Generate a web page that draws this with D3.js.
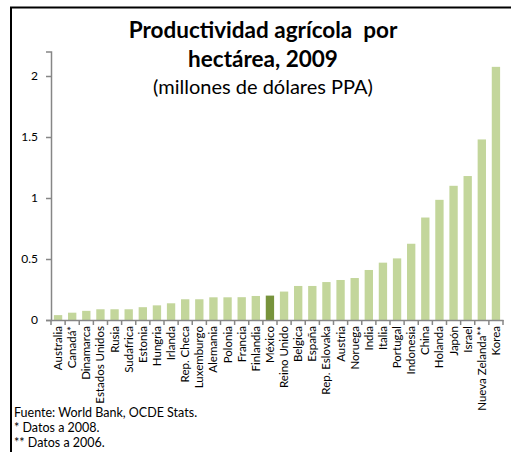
<!DOCTYPE html>
<html><head><meta charset="utf-8">
<script src="https://cdn.jsdelivr.net/npm/d3@7"></script>
<style>body{margin:0;background:#fff;}svg{display:block;font-family:Lato,"Open Sans",sans-serif;}</style>
</head><body>
<svg id="c" width="511" height="452"></svg>
<script>
const categories = ["Australia","Canadá*","Dinamarca","Estados Unidos","Rusia","Sudafrica","Estonia","Hungria","Irlanda","Rep. Checa","Luxemburgo","Alemania","Polonia","Francia","Finlandia","México","Reino Unido","Belgica","España","Rep. Eslovaka","Austria","Noruega","India","Italia","Portugal","Indonesia","China","Holanda","Japón","Israel","Nueva Zelanda**","Korea"];
const values = [0.04,0.06,0.075,0.088,0.088,0.088,0.105,0.12,0.137,0.17,0.17,0.186,0.186,0.187,0.197,0.2,0.233,0.279,0.279,0.311,0.328,0.344,0.41,0.47,0.505,0.625,0.84,0.985,1.1,1.18,1.48,2.075];
const highlight = "México";
const yTicks = [0,0.5,1,1.5,2];
const titleLines = ["Productividad agrícola  por","hectárea, 2009"];
const subtitle = "(millones de dólares PPA)";
const notes = ["Fuente: World Bank, OCDE Stats.","* Datos a 2008.","** Datos a 2006."];

const svg = d3.select("#c");
const axisColor = "#868686";
// frame
svg.append("rect").attr("x",11).attr("y",7.5).attr("width",510).attr("height",460)
  .attr("fill","none").attr("stroke","#000").attr("stroke-width",2);

const x = d3.scaleBand().domain(categories).range([51,503]).paddingInner(0.41).paddingOuter(0.205);
const y = d3.scaleLinear().domain([0,2.2]).range([320,51.6]);

// bars
svg.append("g").selectAll("rect").data(categories).join("rect")
  .attr("x",d=>x(d)).attr("width",x.bandwidth())
  .attr("y",(d,i)=>y(values[i])).attr("height",(d,i)=>y(0)-y(values[i]))
  .attr("fill",d=>d===highlight?"#77933c":"#c3d69b");

// y axis
const ya = svg.append("g").attr("transform","translate(51,0)")
  .call(d3.axisLeft(y).tickValues(yTicks).tickSize(5).tickPadding(8).tickFormat(d=>String(d)));
ya.select(".domain").attr("stroke",axisColor).attr("stroke-width",1.5);
ya.selectAll(".tick line").attr("stroke",axisColor).attr("stroke-width",1.5);
ya.selectAll(".tick text").attr("font-family","Lato, sans-serif").attr("font-size",12).attr("fill","#000");

// x axis
const xa = svg.append("g").attr("transform","translate(0,320)")
  .call(d3.axisBottom(x).tickSize(0).tickPadding(0));
xa.select(".domain").attr("stroke",axisColor).attr("stroke-width",1.5);
xa.selectAll(".tick text")
  .attr("font-family","Lato, sans-serif").attr("font-size",11.5).attr("fill","#000")
  .attr("transform","rotate(-90)").attr("text-anchor","end")
  .attr("x",-6).attr("y",0).attr("dy","0.35em");
const bounds = categories.map(c=>x(c)-x.step()*x.paddingInner()/2).concat([x.range()[1]]);
svg.append("g").selectAll("line").data(bounds).join("line")
  .attr("x1",d=>d).attr("x2",d=>d).attr("y1",320).attr("y2",325)
  .attr("stroke",axisColor).attr("stroke-width",1.5);

// title
svg.append("text").attr("x",263).attr("y",38).attr("text-anchor","middle")
  .style("white-space","pre")
  .attr("font-weight","bold").attr("font-size",22.5).text(titleLines[0]);
svg.append("text").attr("x",263).attr("y",67).attr("text-anchor","middle")
  .attr("font-weight","bold").attr("font-size",22.5).text(titleLines[1]);
svg.append("text").attr("x",263).attr("y",94).attr("text-anchor","middle")
  .attr("font-size",20).text(subtitle);

// notes
notes.forEach((t,i)=>{
  svg.append("text").attr("x",14).attr("y",417+i*15).attr("font-size",12.5).text(t);
});
</script>
</body></html>
